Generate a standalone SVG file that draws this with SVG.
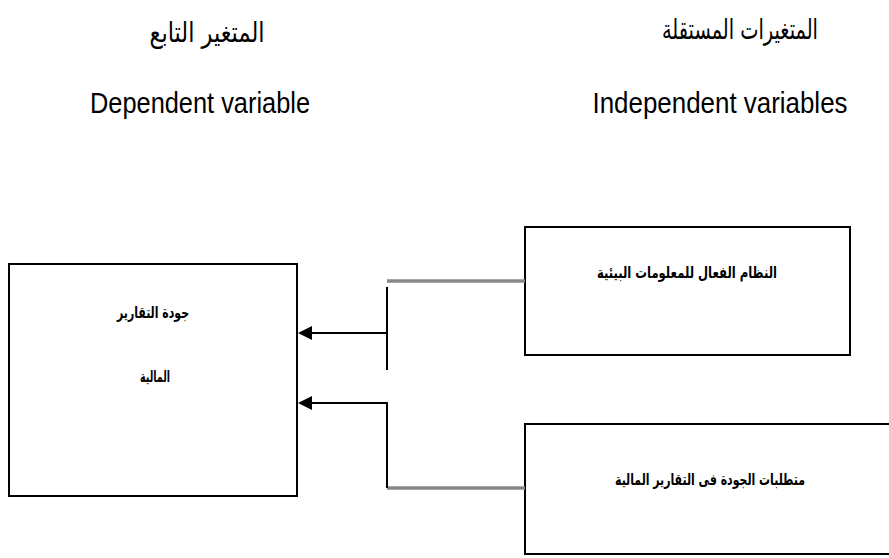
<svg xmlns="http://www.w3.org/2000/svg" width="889" height="558" viewBox="0 0 889 558">
<defs>
<style>
.box{fill:#fff;stroke:#000;stroke-width:2}
.ln{fill:none;stroke:#000;stroke-width:2}
.gl{fill:none;stroke:#888;stroke-width:3.5}
.ar{font-family:"DejaVu Sans",sans-serif;fill:#000;text-anchor:middle}
.arb{font-family:"DejaVu Sans",sans-serif;fill:#000;text-anchor:middle;font-weight:bold}
.en{font-family:"Liberation Sans",Arial,sans-serif;fill:#000;text-anchor:middle}
</style>
</defs>
<g id="headers">
<text class="ar" x="207" y="42" font-size="28" textLength="115" lengthAdjust="spacingAndGlyphs">المتغير التابع</text>
<text class="en" x="200" y="113" font-size="29" textLength="220" lengthAdjust="spacingAndGlyphs">Dependent variable</text>
<text class="ar" x="740" y="39" font-size="28" textLength="156" lengthAdjust="spacingAndGlyphs">المتغيرات المستقلة</text>
<text class="en" x="720" y="113" font-size="29" textLength="255" lengthAdjust="spacingAndGlyphs">Independent variables</text>
</g>
<g id="node-dependent">
<rect class="box" x="9" y="264" width="288" height="232"/>
<text class="arb" x="153" y="318" font-size="16" textLength="72" lengthAdjust="spacingAndGlyphs">جودة التقارير</text>
<text class="arb" x="155" y="382" font-size="16" textLength="30" lengthAdjust="spacingAndGlyphs">المالية</text>
</g>
<g id="node-env-info">
<rect class="box" x="525" y="227" width="325" height="128"/>
<text class="arb" x="687" y="278" font-size="16" textLength="180" lengthAdjust="spacingAndGlyphs">النظام الفعال للمعلومات البيئية</text>
</g>
<g id="node-quality-req">
<rect class="box" x="525" y="424" width="380" height="130"/>
<text class="arb" x="710" y="485" font-size="16" textLength="190" lengthAdjust="spacingAndGlyphs">متطلبات الجودة فى التقارير المالية</text>
</g>
<g id="connectors">
<line class="gl" x1="387" y1="281" x2="525" y2="281"/>
<line class="ln" x1="387" y1="287" x2="387" y2="370"/>
<line class="ln" x1="387" y1="333" x2="310" y2="333"/>
<polygon points="298,333 312,326 312,340" fill="#000"/>
<line class="gl" x1="387" y1="488" x2="525" y2="488"/>
<line class="ln" x1="387" y1="403" x2="387" y2="488"/>
<line class="ln" x1="388" y1="403" x2="310" y2="403"/>
<polygon points="298,403 312,396 312,410" fill="#000"/>
</g>
</svg>
